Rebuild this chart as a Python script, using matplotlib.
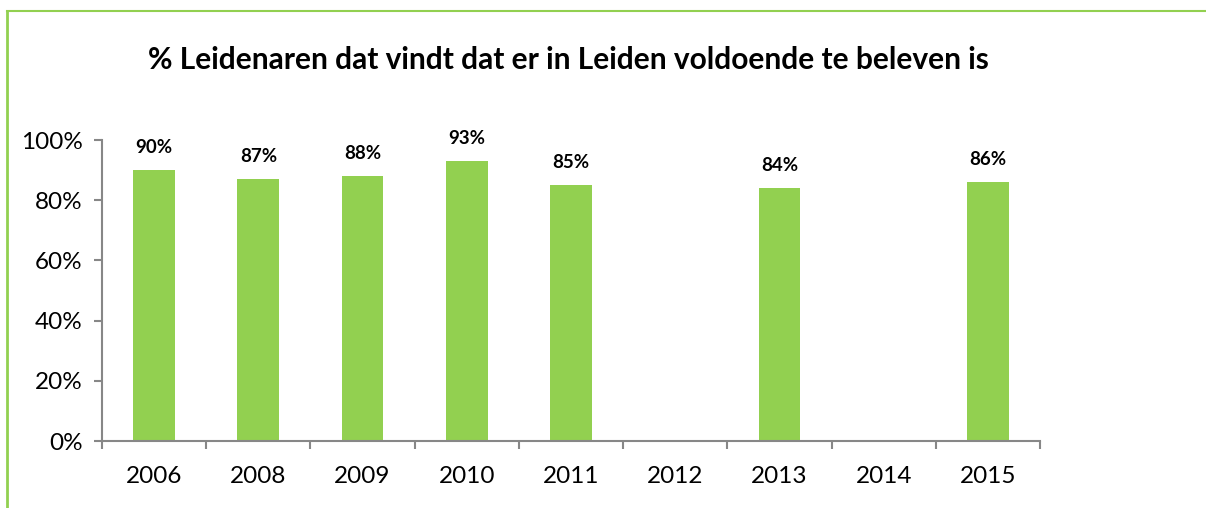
import numpy as np
import matplotlib
matplotlib.use("Agg")
import matplotlib.pyplot as plt
from matplotlib.lines import Line2D

years = ["2006", "2008", "2009", "2010", "2011", "2012", "2013", "2014", "2015"]
values = [90, 87, 88, 93, 85, np.nan, 84, np.nan, 86]
yticks = [0, 20, 40, 60, 80, 100]
title = "% Leidenaren dat vindt dat er in Leiden voldoende te beleven is"

plt.rcParams['font.family'] = ['Lato', 'DejaVu Sans']

W, H = 1206, 508
fig = plt.figure(figsize=(W / 100, H / 100), dpi=100)
ax = fig.add_axes([102 / W, 1 - 441 / H, (1040 - 102) / W, (441 - 140) / H])

green = "#92D050"
axis_gray = "#878787"

x = np.arange(len(years))
ax.bar(x, values, width=0.4, color=green)
for xi, v in zip(x, values):
    if not np.isnan(v):
        ax.annotate(f"{int(v)}%", (xi, v), xytext=(0, 10), textcoords="offset points",
                    ha="center", va="bottom", fontsize=13.5, fontweight="bold")

ax.set_xlim(-0.5, len(years) - 0.5)
ax.set_ylim(0, 100)
ax.set_yticks(yticks)
ax.set_yticklabels([f"{t}%" for t in yticks], fontsize=17.5)
ax.set_xticks(x)
ax.set_xticklabels(years, fontsize=17.5)
ax.set_xticks(np.arange(len(years) + 1) - 0.5, minor=True)
ax.tick_params(axis="x", which="major", length=0, pad=18)
ax.tick_params(axis="x", which="minor", length=6, color=axis_gray, width=1.5, direction="out")
ax.tick_params(axis="y", length=6, color=axis_gray, width=1.5, direction="out", pad=8)

for s in ["top", "right"]:
    ax.spines[s].set_visible(False)
for s in ["left", "bottom"]:
    ax.spines[s].set_color(axis_gray)
    ax.spines[s].set_linewidth(1.5)

fig.text(568 / W, 1 - 60 / H, title, ha="center", va="center", fontsize=21.5, fontweight="bold")

# partial green frame
fig.add_artist(Line2D([7 / W, 7 / W], [0, 1 - 11 / H], transform=fig.transFigure, color=green, lw=2))
fig.add_artist(Line2D([7 / W, 1], [1 - 11 / H, 1 - 11 / H], transform=fig.transFigure, color=green, lw=1.5))

fig.savefig("out.png", dpi=100)
